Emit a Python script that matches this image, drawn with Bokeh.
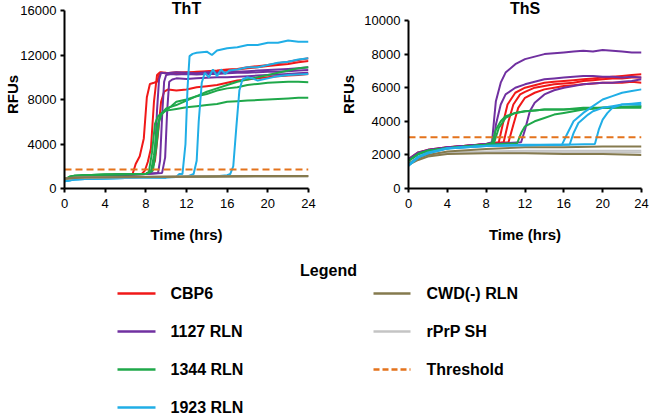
from bokeh.plotting import figure
from bokeh.layouts import column, row
from bokeh.models import Range1d
from bokeh.core.properties import value
from bokeh.embed import file_html
from bokeh.resources import INLINE

FONT = "Liberation Sans"

# ---------------- data: ThT panel ----------------
time_ticks = [0, 4, 8, 12, 16, 20, 24]
tht_y_ticks = [0, 4000, 8000, 12000, 16000]
ths_y_ticks = [0, 2000, 4000, 6000, 8000, 10000]
tht_y_max = 16000
ths_y_max = 10000

tht_cbp6_t = [
    [0, 1, 2, 4, 6, 6.7, 7.0, 7.4, 7.8, 8.1, 8.4, 8.8, 9.1, 9.4, 10, 11, 12, 13, 14, 15, 16, 17, 18, 19, 20, 21, 22, 23, 24],
    [0, 1, 2, 4, 6, 7.6, 7.9, 8.2, 8.5, 8.8, 9.1, 9.4, 10, 11, 12, 13, 14, 15, 16, 17, 18, 19, 20, 21, 22, 23, 24],
    [0, 1, 2, 4, 6, 8, 8.5, 8.9, 9.2, 9.5, 9.8, 10.2, 11, 12, 13, 14, 15, 16, 17, 18, 19, 20, 21, 22, 23, 24],
]
tht_cbp6_y = [
    [850, 1100, 1150, 1200, 1250, 1300, 2200, 2900, 4500, 8200, 9400, 9500, 9600, 10400, 10350, 10450, 10400, 10500, 10550, 10600, 10700, 10750, 10900, 11000, 11100, 11250, 11400, 11550, 11700],
    [800, 1100, 1150, 1200, 1250, 1300, 1600, 2400, 3600, 7800, 10200, 10450, 10400, 10350, 10450, 10400, 10500, 10550, 10650, 10700, 10800, 10900, 11000, 11100, 11200, 11350, 11450],
    [800, 1050, 1150, 1200, 1250, 1300, 1500, 2500, 5000, 7800, 8700, 8900, 8800, 8900, 9100, 9200, 9300, 9500, 9700, 9800, 9900, 10000, 10100, 10150, 10200, 10300],
]
tht_1127_t = [
    [0, 1, 2, 4, 6, 8, 8.6, 8.9, 9.1, 9.3, 9.5, 10, 11, 12, 13, 14, 15, 16, 17, 18, 19, 20, 21, 22, 23, 24],
    [0, 1, 2, 4, 6, 8, 9.2, 9.4, 9.6, 9.8, 10.0, 10.5, 11, 12, 13, 14, 15, 16, 17, 18, 19, 20, 21, 22, 23, 24],
    [0, 1, 2, 4, 6, 8, 9.6, 9.9, 10.1, 10.3, 10.6, 11, 12, 13, 14, 15, 16, 17, 18, 19, 20, 21, 22, 23, 24],
]
tht_1127_y = [
    [850, 1100, 1150, 1200, 1250, 1300, 1500, 3000, 7000, 9800, 10400, 10350, 10450, 10400, 10350, 10450, 10400, 10450, 10500, 10550, 10600, 10650, 10700, 10750, 10800, 10900],
    [850, 1100, 1150, 1200, 1250, 1300, 1400, 2500, 6500, 9600, 10200, 10300, 10250, 10300, 10250, 10300, 10300, 10350, 10400, 10400, 10450, 10500, 10500, 10550, 10600, 10650],
    [850, 1100, 1150, 1200, 1250, 1300, 1400, 2800, 7000, 9600, 9800, 9900, 9850, 9900, 9950, 10000, 10000, 10050, 10100, 10150, 10200, 10250, 10300, 10350, 10400],
]
tht_1344_t = [
    [0, 0.5, 1, 2, 4, 6, 8, 8.3, 8.6, 8.9, 9.2, 9.6, 10, 11, 12, 13, 14, 15, 16, 17, 18, 19, 20, 21, 22, 23, 24],
    [0, 0.5, 1, 2, 4, 6, 8, 8.5, 8.8, 9.1, 9.4, 9.8, 10.5, 11, 12, 13, 14, 15, 16, 17, 18, 19, 20, 21, 22, 23, 24],
    [0, 0.5, 1, 2, 4, 6, 8, 8.7, 9.0, 9.3, 9.6, 10, 11, 12, 13, 14, 15, 16, 17, 18, 19, 20, 21, 22, 23, 24],
]
tht_1344_y = [
    [800, 1050, 1150, 1200, 1250, 1280, 1300, 1500, 3200, 5800, 6500, 6800, 7000, 7150, 7300, 7400, 7500, 7600, 7800, 7850, 7900, 7950, 8000, 8050, 8100, 8150, 8150],
    [800, 1050, 1150, 1200, 1250, 1280, 1300, 1500, 3000, 5500, 6500, 6900, 7400, 7800, 8000, 8300, 8500, 8800, 9000, 9100, 9300, 9400, 9500, 9550, 9600, 9600, 9550],
    [800, 1050, 1150, 1200, 1250, 1280, 1300, 1600, 3500, 6000, 6800, 7200, 7500, 7900, 8300, 8700, 9000, 9300, 9600, 9800, 10000, 10200, 10400, 10600, 10800, 10900],
]
tht_1923_t = [
    [0, 1, 2, 4, 6, 8, 10, 11, 11.3, 11.6, 11.9, 12.1, 12.3, 12.6, 13, 14, 14.5, 15, 16, 17, 18, 19, 20, 21, 22, 23, 24],
    [0, 1, 2, 4, 6, 8, 10, 12, 12.7, 13.0, 13.2, 13.5, 13.8, 14.2, 14.6, 15, 15.4, 15.8, 16.2, 17, 18, 19, 20, 21, 22, 23, 24],
    [0, 1, 2, 4, 6, 8, 10, 12, 14, 15, 16, 16.3, 16.6, 16.9, 17.2, 17.5, 18, 18.5, 19, 20, 21, 22, 23, 24],
]
tht_1923_y = [
    [650, 800, 850, 900, 950, 1000, 1000, 1050, 1300, 1300, 4000, 9000, 11900, 12100, 12200, 12300, 12000, 12400, 12600, 12700, 12900, 12900, 13100, 13100, 13300, 13200, 13200],
    [650, 800, 850, 900, 950, 1000, 1000, 1050, 1300, 2500, 6000, 9500, 10400, 10000, 10700, 10100, 10700, 10300, 10600, 10700, 10900, 10900, 11100, 11300, 11400, 11600, 11700],
    [650, 800, 850, 900, 950, 1000, 1000, 1050, 1050, 1100, 1200, 1300, 2000, 5500, 8800, 9800, 10000, 9900, 9700, 9900, 10100, 10200, 10250, 10300],
]
tht_cwd_t = [[0, 1, 2, 4, 8, 12, 16, 20, 24], [0, 1, 2, 4, 8, 12, 16, 20, 24]]
tht_cwd_y = [[900, 980, 1000, 1020, 1050, 1080, 1100, 1120, 1130],
             [850, 950, 980, 1000, 1030, 1060, 1080, 1100, 1100]]
tht_rprp_t = [[0, 1, 2, 4, 8, 12, 16, 20, 24], [0, 1, 2, 4, 8, 12, 16, 20, 24]]
tht_rprp_y = [[880, 960, 990, 1010, 1040, 1070, 1090, 1110, 1120],
              [860, 940, 970, 1000, 1020, 1050, 1070, 1080, 1090]]
tht_threshold = 1700

# ---------------- data: ThS panel ----------------
ths_cbp6_t = [
    [0, 1, 2, 4, 6, 8, 9.3, 9.7, 10.2, 11, 12, 13, 14, 15, 16, 17, 18, 19, 20, 21, 22, 23, 24],
    [0, 1, 2, 4, 6, 8, 9.8, 10.3, 10.8, 11.5, 12, 13, 14, 15, 16, 17, 18, 19, 20, 21, 22, 23, 24],
    [0, 1, 2, 4, 6, 8, 10.3, 10.8, 11.3, 12, 13, 14, 15, 16, 17, 18, 19, 20, 21, 22, 23, 24],
]
ths_cbp6_y = [
    [1750, 2150, 2300, 2450, 2550, 2650, 2750, 3800, 5000, 5700, 6000, 6150, 6300, 6350, 6400, 6450, 6500, 6550, 6600, 6650, 6700, 6750, 6800],
    [1700, 2100, 2280, 2440, 2540, 2640, 2750, 4000, 5000, 5600, 5750, 6000, 6100, 6200, 6250, 6300, 6400, 6450, 6500, 6550, 6550, 6600, 6600],
    [1700, 2100, 2270, 2430, 2530, 2630, 2750, 3800, 4800, 5400, 5700, 5900, 6000, 6100, 6150, 6200, 6250, 6300, 6300, 6300, 6350, 6300, 6350],
]
ths_1127_t = [
    [0, 1, 2, 4, 6, 8, 8.6, 8.8, 9.0, 9.5, 10, 11, 12, 13, 14, 15, 16, 17, 18, 19, 20, 21, 22, 23, 24],
    [0, 1, 2, 4, 6, 8, 8.8, 9.0, 9.5, 10, 11, 12, 13, 14, 15, 16, 17, 18, 19, 20, 21, 22, 23, 24],
    [0, 1, 2, 4, 6, 8, 11.6, 12.0, 12.5, 13, 14, 15, 16, 17, 18, 19, 20, 21, 22, 23, 24],
]
ths_1127_y = [
    [1750, 2150, 2300, 2450, 2550, 2650, 2750, 4000, 5200, 6300, 6900, 7400, 7700, 7850, 8000, 8050, 8100, 8150, 8200, 8150, 8250, 8200, 8150, 8100, 8100],
    [1700, 2100, 2280, 2440, 2540, 2640, 2750, 3800, 5000, 5600, 6000, 6200, 6350, 6500, 6550, 6600, 6650, 6700, 6700, 6650, 6650, 6600, 6650, 6600, 6600],
    [1700, 2100, 2270, 2430, 2530, 2630, 2750, 3500, 4600, 5100, 5600, 5850, 6000, 6100, 6200, 6250, 6300, 6300, 6350, 6400, 6500],
]
ths_1344_t = [
    [0, 1, 2, 4, 6, 8, 8.6, 9.0, 9.5, 10, 11, 12, 13, 14, 16, 18, 20, 22, 24],
    [0, 1, 2, 4, 6, 8, 8.8, 9.3, 10, 11, 12, 13, 14, 16, 18, 20, 22, 24],
    [0, 1, 2, 4, 6, 8, 11.2, 11.6, 12, 13, 14, 15, 16, 17, 18, 19, 20, 22, 24],
]
ths_1344_y = [
    [1650, 2050, 2250, 2400, 2500, 2600, 2700, 3500, 4000, 4300, 4500, 4600, 4650, 4700, 4700, 4800, 4800, 4800, 4800],
    [1650, 2050, 2250, 2400, 2500, 2600, 2700, 3600, 4200, 4500, 4600, 4650, 4700, 4700, 4750, 4800, 4850, 4900],
    [1650, 2050, 2250, 2400, 2500, 2600, 2700, 3300, 3700, 4000, 4200, 4400, 4500, 4600, 4700, 4750, 4800, 4850, 4900],
]
ths_1923_t = [
    [0, 1, 2, 4, 8, 12, 15.8, 16.3, 17, 18, 19, 20, 21, 22, 23, 24],
    [0, 1, 2, 4, 8, 12, 16.6, 17.0, 17.5, 18.5, 19, 20, 21, 22, 23, 24],
    [0, 1, 2, 4, 8, 12, 16, 19.2, 19.6, 20, 20.5, 21, 22, 23, 24],
]
ths_1923_y = [
    [1400, 1900, 2150, 2400, 2550, 2600, 2600, 3200, 4000, 4500, 4900, 5300, 5500, 5700, 5800, 5900],
    [1350, 1850, 2100, 2380, 2530, 2580, 2620, 3300, 3900, 4400, 4600, 4800, 4900, 5000, 5000, 5000],
    [1350, 1850, 2100, 2380, 2530, 2580, 2600, 2650, 3500, 4100, 4500, 4800, 5000, 5050, 5100],
]
ths_cwd_t = [[0, 1, 2, 4, 8, 12, 16, 20, 24], [0, 1, 2, 4, 8, 12, 16, 20, 24]]
ths_cwd_y = [[1500, 1800, 2000, 2200, 2350, 2450, 2450, 2500, 2500],
             [1400, 1700, 1900, 2050, 2100, 2100, 2050, 2050, 2000]]
ths_rprp_t = [[0, 1, 2, 4, 8, 12, 16, 20, 24], [0, 1, 2, 4, 8, 12, 16, 20, 24]]
ths_rprp_y = [[1500, 1850, 2000, 2150, 2200, 2250, 2250, 2250, 2250],
              [1450, 1800, 1950, 2100, 2150, 2150, 2150, 2150, 2150]]
ths_threshold = 3050

# ---------------- legend ----------------
legend_left_labels = ["CBP6", "1127 RLN", "1344 RLN", "1923 RLN"]
legend_right_labels = ["CWD(-) RLN", "rPrP SH", "Threshold"]

C_RED = "#F01818"
C_PURPLE = "#7030A0"
C_GREEN = "#1FA84A"
C_CYAN = "#20AEE6"
C_OLIVE = "#857A4E"
C_GRAY = "#C4C4C4"
C_ORANGE = "#E4731C"
legend_left_colors = [C_RED, C_PURPLE, C_GREEN, C_CYAN]
legend_right_colors = [C_OLIVE, C_GRAY, C_ORANGE]

# ---------------- layout constants (pixels) ----------------
TOP_H = 250          # height of the top row
FRAME_H = 188        # plot frame height (frame top at page y=0)
BOTTOM_B = TOP_H - FRAME_H
TITLE_PX = 8         # title centre, px from top
THT_TOP_PX = 10      # px from top where ThT axis ends
THS_TOP_PX = 20      # px from top where ThS axis ends


def px_range(ymax, top_px):
    # y-range whose top lies top_px above the axis maximum
    return ymax * FRAME_H / (FRAME_H - top_px)


def style_panel(p, yticks, ymax, label_standoff):
    p.outline_line_color = None
    p.xgrid.visible = False
    p.ygrid.visible = False
    for ax in (p.xaxis[0], p.yaxis[0]):
        ax.axis_line_color = "black"
        ax.axis_line_width = 2
        ax.major_tick_line_color = "black"
        ax.major_tick_line_width = 2
        ax.major_tick_in = 0
        ax.major_tick_out = 4
        ax.minor_tick_line_color = None
        ax.major_label_text_font = FONT
        ax.major_label_text_font_size = "13px"
        ax.major_label_text_color = "black"
        ax.axis_label_text_font = FONT
        ax.axis_label_text_font_size = "15px"
        ax.axis_label_text_font_style = "bold"
        ax.axis_label_text_color = "black"
    p.xaxis.ticker = time_ticks
    p.yaxis.ticker = yticks
    p.yaxis.bounds = (0, ymax)
    p.xaxis.axis_label = "Time (hrs)"
    p.yaxis.axis_label = "RFUs"
    p.xaxis.major_label_standoff = 6
    p.xaxis.axis_label_standoff = 15
    p.yaxis.major_label_standoff = 4
    p.yaxis.axis_label_standoff = label_standoff


def draw(p, groups, thr, title, ymax, top_px):
    for ts, ys, col in groups:
        p.multi_line(ts, ys, line_color=col, line_width=2)
    p.line([0, 24], [thr, thr], line_color=C_ORANGE, line_width=2, line_dash="7 4")
    ty = px_range(ymax, top_px) * (FRAME_H - TITLE_PX) / FRAME_H
    p.text(x=[12], y=[ty], text=[title], text_align="center", text_baseline="middle",
           text_font=value(FONT), text_font_size="16px", text_font_style="bold", text_color="black")


# left panel (ThT)
p1 = figure(width=335, height=TOP_H, x_range=Range1d(0, 24),
            y_range=Range1d(0, px_range(tht_y_max, THT_TOP_PX)),
            output_backend="svg", toolbar_location=None,
            min_border_left=64, min_border_right=27, min_border_top=0, min_border_bottom=BOTTOM_B)
style_panel(p1, tht_y_ticks, tht_y_max, -4)
draw(p1, [(tht_cbp6_t, tht_cbp6_y, C_RED), (tht_1127_t, tht_1127_y, C_PURPLE),
          (tht_1344_t, tht_1344_y, C_GREEN), (tht_1923_t, tht_1923_y, C_CYAN),
          (tht_rprp_t, tht_rprp_y, C_GRAY), (tht_cwd_t, tht_cwd_y, C_OLIVE)],
     tht_threshold, "ThT", tht_y_max, THT_TOP_PX)

# right panel (ThS)
p2 = figure(width=315, height=TOP_H, x_range=Range1d(0, 24),
            y_range=Range1d(0, px_range(ths_y_max, THS_TOP_PX)),
            output_backend="svg", toolbar_location=None,
            min_border_left=73, min_border_right=9, min_border_top=0, min_border_bottom=BOTTOM_B)
style_panel(p2, ths_y_ticks, ths_y_max, 4)
draw(p2, [(ths_rprp_t, ths_rprp_y, C_GRAY), (ths_cwd_t, ths_cwd_y, C_OLIVE),
          (ths_cbp6_t, ths_cbp6_y, C_RED), (ths_1127_t, ths_1127_y, C_PURPLE),
          (ths_1344_t, ths_1344_y, C_GREEN), (ths_1923_t, ths_1923_y, C_CYAN)],
     ths_threshold, "ThS", ths_y_max, THS_TOP_PX)

# legend panel
LW, LH = 650, 415 - TOP_H
pl = figure(width=LW, height=LH, x_range=Range1d(0, LW), y_range=Range1d(LH, 0),
            output_backend="svg", toolbar_location=None,
            x_axis_location=None, y_axis_location=None, min_border=0)
pl.outline_line_color = None
pl.xgrid.visible = False
pl.ygrid.visible = False
row0, row_step = 43, 38
pl.text(x=[328], y=[20], text=["Legend"], text_align="center", text_baseline="middle",
        text_font=value(FONT), text_font_size="16px", text_font_style="bold", text_color="black")
ly = [row0 + i * row_step for i in range(len(legend_left_labels))]
pl.segment(x0=[117] * len(ly), y0=ly, x1=[155] * len(ly), y1=ly,
           line_color=legend_left_colors, line_width=2.5)
pl.text(x=[170] * len(ly), y=ly, text=legend_left_labels, text_align="left", text_baseline="middle",
        text_font=value(FONT), text_font_size="16px", text_font_style="bold", text_color="black")
ry = [row0 + i * row_step for i in range(len(legend_right_labels))]
pl.segment(x0=[373, 373], y0=ry[:2], x1=[410, 410], y1=ry[:2],
           line_color=legend_right_colors[:2], line_width=2.5)
pl.segment(x0=[373], y0=[ry[2]], x1=[410], y1=[ry[2]], line_color=legend_right_colors[2],
           line_width=2.5, line_dash="6 3")
pl.text(x=[426] * len(ry), y=ry, text=legend_right_labels, text_align="left", text_baseline="middle",
        text_font=value(FONT), text_font_size="16px", text_font_style="bold", text_color="black")

layout = column(row(p1, p2), pl)
open("out.html", "w").write(file_html(layout, INLINE))
